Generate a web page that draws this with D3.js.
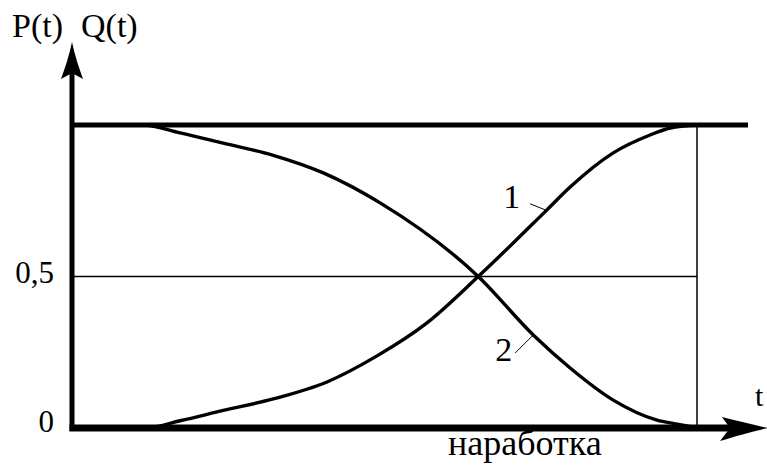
<!DOCTYPE html>
<html>
<head>
<meta charset="utf-8">
<script src="https://cdn.jsdelivr.net/npm/d3@7"></script>
<style>
  html, body { margin: 0; padding: 0; background: #fff; }
  svg { display: block; }
  text { font-family: "Liberation Serif", "Times New Roman", serif; fill: #000; }
</style>
</head>
<body>
<div id="chart"></div>
<script>
// curve 1: Q(t), rising (t in arbitrary units 0..100)
var tQ = [0, 11.7, 17.3, 24.2, 32.2, 40.8, 48.8, 56.8, 65, 76.0, 79.7, 86.6, 92.5, 95.7, 100];
var qValues = [0, 0, 0.024, 0.058, 0.096, 0.152, 0.238, 0.347, 0.5, 0.72, 0.795, 0.908, 0.967, 0.99, 1];

// curve 2: P(t), falling
var tP = [0, 11.4, 17.3, 24.2, 32.2, 40.2, 49.3, 65, 73.8, 79.7, 86.6, 93.6, 96.8, 100];
var pValues = [1, 1, 0.974, 0.94, 0.90, 0.842, 0.743, 0.5, 0.307, 0.198, 0.092, 0.026, 0.013, 0];

var yTicks = [0, 0.5];
var yTickLabels = ["0", "0,5"];

(function() {
  var outerWidth = 767,
      outerHeight = 466;

  var svg = d3.select("#chart").append("svg")
      .attr("width", outerWidth)
      .attr("height", outerHeight);

  var x = d3.scaleLinear().domain([0, 100]).range([72, 697]);
  var y = d3.scaleLinear().domain([0, 1]).range([428, 125]);

  var line = d3.line()
      .x(d => x(d[0]))
      .y(d => y(d[1]))
      .curve(d3.curveMonotoneX);

  // thin guides: 0,5 level and right border
  svg.append("line")
      .attr("x1", x(0)).attr("x2", x(100))
      .attr("y1", y(0.5)).attr("y2", y(0.5))
      .attr("stroke", "#000").attr("stroke-width", 1.5);

  svg.append("line")
      .attr("x1", x(100)).attr("x2", x(100))
      .attr("y1", y(1)).attr("y2", y(0))
      .attr("stroke", "#000").attr("stroke-width", 1.5);

  // curves
  svg.append("path")
      .datum(d3.zip(tQ, qValues))
      .attr("d", line)
      .attr("fill", "none")
      .attr("stroke", "#000")
      .attr("stroke-width", 3.4);

  svg.append("path")
      .datum(d3.zip(tP, pValues))
      .attr("d", line)
      .attr("fill", "none")
      .attr("stroke", "#000")
      .attr("stroke-width", 3.4);

  // top level line (value 1)
  svg.append("line")
      .attr("x1", x(0) - 2).attr("x2", 748)
      .attr("y1", y(1)).attr("y2", y(1))
      .attr("stroke", "#000").attr("stroke-width", 5);

  // y axis with arrow
  var ax = x(0);
  svg.append("line")
      .attr("x1", ax).attr("x2", ax)
      .attr("y1", y(0) + 3).attr("y2", 70)
      .attr("stroke", "#000").attr("stroke-width", 5);

  svg.append("path")
      .attr("d", `M${ax},42 C${ax + 3},56 ${ax + 7},68 ${ax + 11},79 L${ax},73 L${ax - 11},79 C${ax - 7},68 ${ax - 3},56 ${ax},42 Z`)
      .attr("fill", "#000");

  // x axis with arrow
  var ay = y(0);
  svg.append("line")
      .attr("x1", ax - 2.5).attr("x2", 740)
      .attr("y1", ay).attr("y2", ay)
      .attr("stroke", "#000").attr("stroke-width", 7);

  svg.append("path")
      .attr("d", `M768,${ay} C754,${ay - 3} 738,${ay - 7} 722,${ay - 11} L730,${ay} L720,${ay + 13} C736,${ay + 8} 754,${ay + 3} 768,${ay} Z`)
      .attr("fill", "#000");

  // tick labels
  svg.selectAll(".ytick")
      .data(yTicks)
    .enter().append("text")
      .attr("class", "ytick")
      .attr("x", 54)
      .attr("y", d => y(d) + (d === 0 ? 4 : 6))
      .attr("text-anchor", "end")
      .attr("font-size", "31px")
      .text((d, i) => yTickLabels[i]);

  // axis titles
  svg.append("text")
      .attr("x", 12).attr("y", 37)
      .attr("font-size", "34px")
      .text("P(t)");

  svg.append("text")
      .attr("x", 81).attr("y", 37)
      .attr("font-size", "34px")
      .text("Q(t)");

  svg.append("text")
      .attr("x", 755).attr("y", 406)
      .attr("font-size", "30px")
      .text("t");

  svg.append("text")
      .attr("x", 448).attr("y", 455)
      .attr("font-size", "36px")
      .text("наработка");

  // curve labels with leaders
  var q1 = [75.7, 0.72], p2 = [73.8, 0.307];

  svg.append("line")
      .attr("x1", x(q1[0]) - 15).attr("y1", y(q1[1]) - 6)
      .attr("x2", x(q1[0])).attr("y2", y(q1[1]))
      .attr("stroke", "#000").attr("stroke-width", 1);

  svg.append("text")
      .attr("x", x(q1[0]) - 25).attr("y", y(q1[1]) - 2)
      .attr("text-anchor", "end")
      .attr("font-size", "34px")
      .text("1");

  svg.append("line")
      .attr("x1", x(p2[0]) - 18).attr("y1", y(p2[1]) + 18)
      .attr("x2", x(p2[0])).attr("y2", y(p2[1]))
      .attr("stroke", "#000").attr("stroke-width", 1);

  svg.append("text")
      .attr("x", x(p2[0]) - 21).attr("y", y(p2[1]) + 26)
      .attr("text-anchor", "end")
      .attr("font-size", "34px")
      .text("2");
})();
</script>
</body>
</html>
